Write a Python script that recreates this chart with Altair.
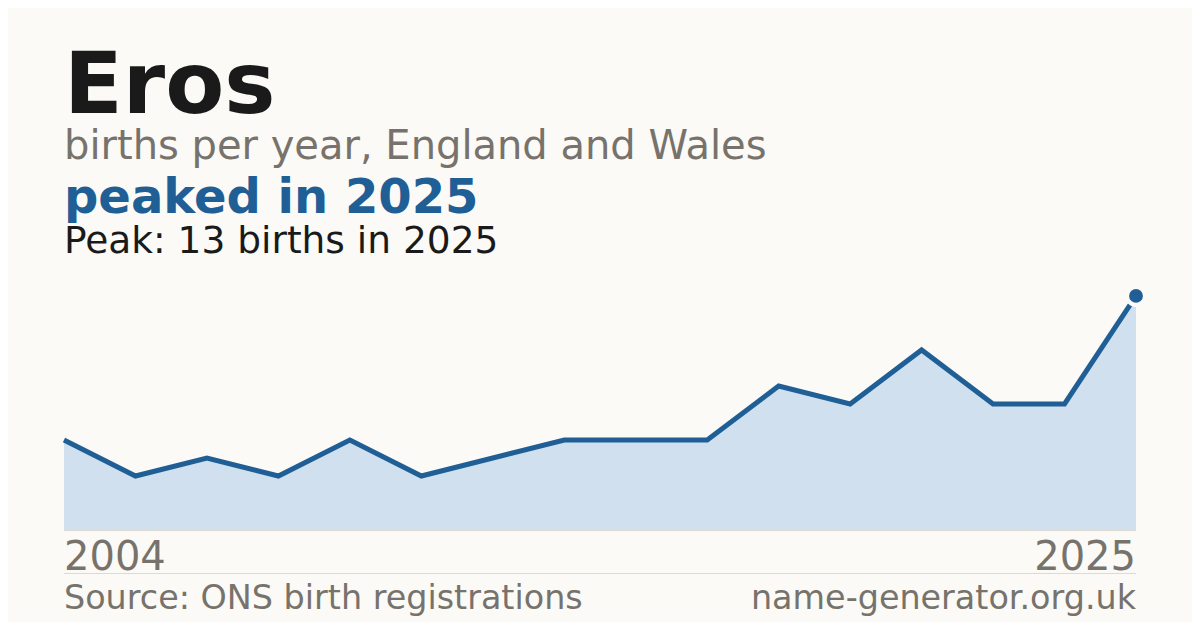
import altair as alt
import pandas as pd

# ---- data ----
name = "Eros"
subtitle = "births per year, England and Wales"
headline = "peaked in 2025"
peak_note = "Peak: 13 births in 2025"
first_year = "2004"
last_year = "2025"
births = [5, 3, 4, 3, 5, 3, 4, 5, 5, 5, 8, 7, 10, 7, 7, 13]
source = "Source: ONS birth registrations"
site = "name-generator.org.uk"

df = pd.DataFrame({"i": list(range(len(births))), "births": births})

BG = "#fbfaf6"
BLUE = "#1f5f96"
FILL = "#d0e0ef"
GRAY = "#77736c"
INK = "#1a1a1a"
RULE = "#dedad2"
FONT = "DejaVu Sans"
W, H = 1072, 260

x = alt.X("i:Q", scale=alt.Scale(domain=[0, len(births) - 1], nice=False, zero=False), axis=None)
y = alt.Y("births:Q", scale=alt.Scale(domain=[0, 14.44], nice=False), axis=None)

base = alt.Chart(df).encode(x=x, y=y)
area = base.mark_area(color=FILL, opacity=1)
line = base.mark_line(color=BLUE, strokeWidth=5, strokeJoin="miter")
last = f"datum.i == {len(births) - 1}"
halo = base.mark_point(filled=True, color=BG, size=480, opacity=1).transform_filter(last)
dot = base.mark_point(filled=True, color=BLUE, size=190, opacity=1).transform_filter(last)


def txt(s, xv, yv, size, color, weight="normal", align="left"):
    return alt.Chart(pd.DataFrame({"t": [s]})).mark_text(
        font=FONT, fontSize=size, fontWeight=weight, color=color,
        align=align, baseline="alphabetic"
    ).encode(text="t:N", x=alt.value(xv), y=alt.value(yv))


def hrule(yv):
    return alt.Chart(pd.DataFrame({"a": [0]})).mark_rule(color=RULE, strokeWidth=1).encode(
        x=alt.value(0), x2=alt.value(W), y=alt.value(yv)
    )


layers = [
    area,
    hrule(H + 0.5),
    line,
    halo,
    dot,
    txt(name, 0, -157, 86, INK, "bold"),
    txt(subtitle, 0, -111, 40, GRAY),
    txt(headline, 0, -57, 48, BLUE, "bold"),
    txt(peak_note, 0, -17, 37.5, INK),
    txt(first_year, 0, 300, 40, GRAY),
    txt(last_year, W, 300, 40, GRAY, align="right"),
    hrule(303.5),
    txt(source, 0, 339, 33.4, GRAY),
    txt(site, W, 339, 33.4, GRAY, align="right"),
]

chart = alt.layer(*layers).properties(
    width=W,
    height=H,
    background=BG,
    padding={"left": 56, "top": 262, "right": 56, "bottom": 92},
    autosize=alt.AutoSizeParams(type="none"),
).configure_view(stroke=None)

chart.save("out.html", embed_options={"renderer": "svg", "actions": False})
